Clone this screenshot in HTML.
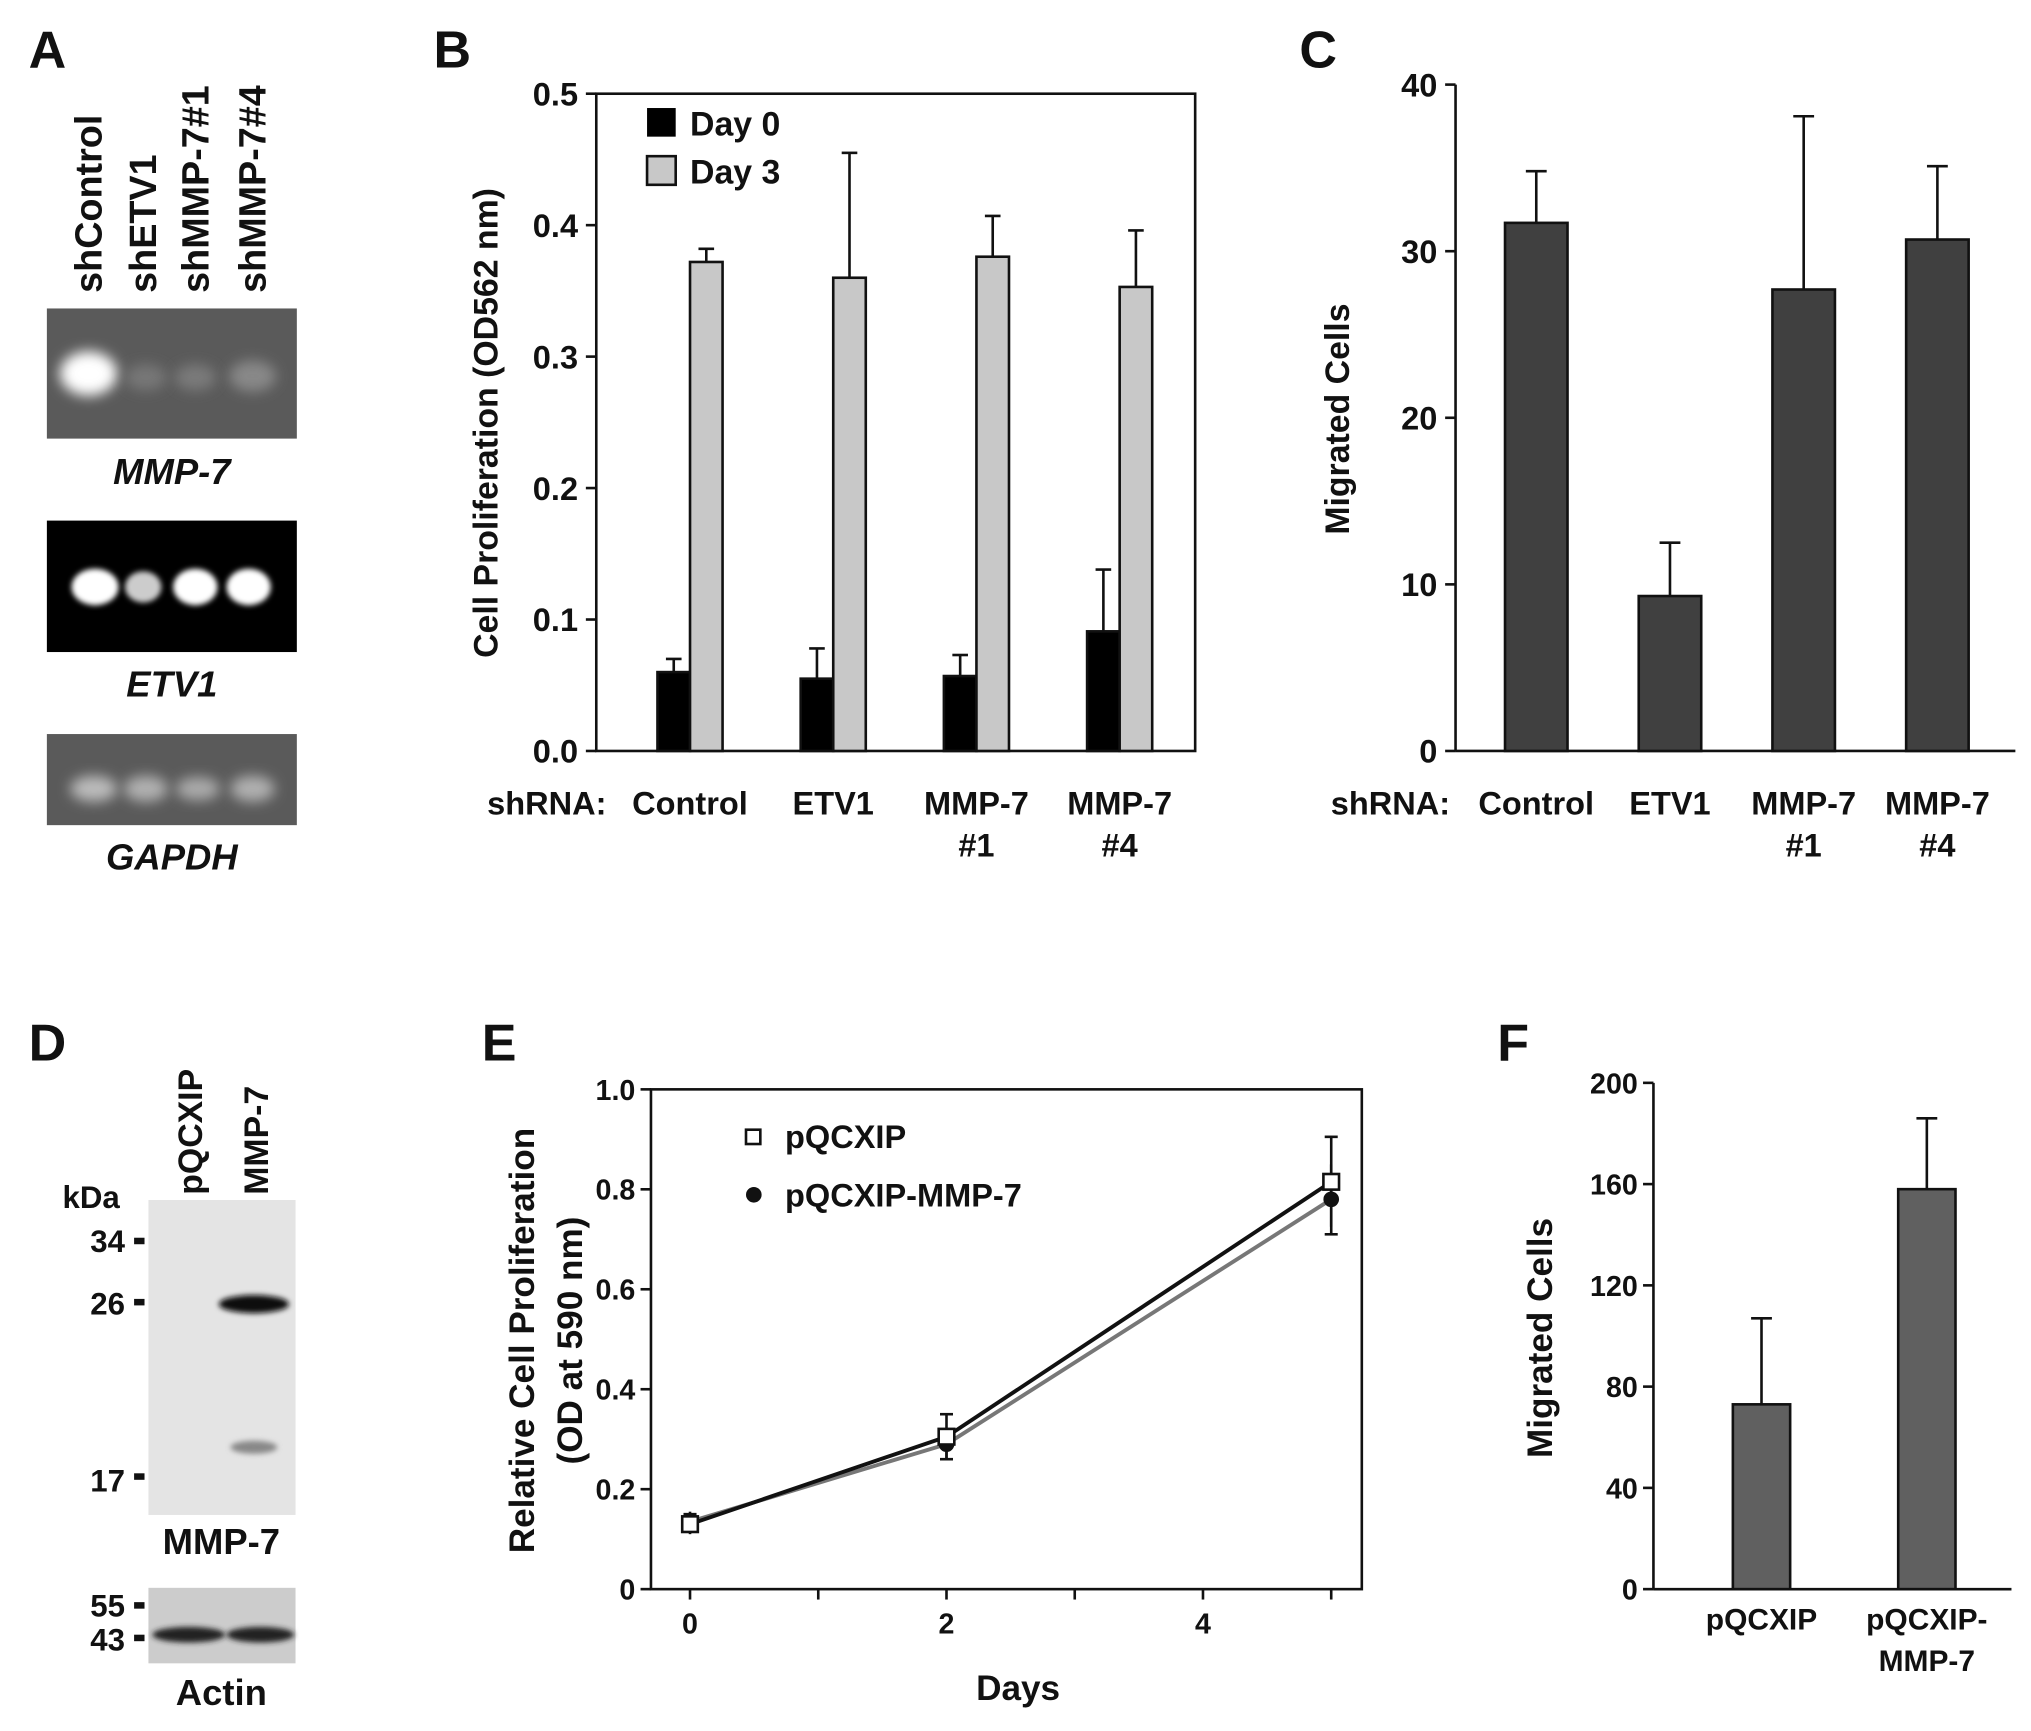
<!DOCTYPE html>
<html><head><meta charset="utf-8"><style>
html,body{margin:0;padding:0;background:#fff}
svg{display:block}
text{font-family:"Liberation Sans",Arial,sans-serif;font-weight:bold;fill:#111}
</style></head><body>
<svg id="fig" width="2031" height="1731" viewBox="0 0 1560 1330" preserveAspectRatio="none">
<defs>
<filter id="blur" x="-50%" y="-50%" width="200%" height="200%"><feGaussianBlur stdDeviation="5"/></filter>
<filter id="blur2" x="-50%" y="-50%" width="200%" height="200%"><feGaussianBlur stdDeviation="2"/></filter>
</defs>
<g>
<text x="22" y="52" font-size="40">A</text>
<text transform="translate(78,225) rotate(-90)" font-size="29">shControl</text>
<text transform="translate(120,225) rotate(-90)" font-size="29">shETV1</text>
<text transform="translate(160,225) rotate(-90)" font-size="29">shMMP-7#1</text>
<text transform="translate(204,225) rotate(-90)" font-size="29">shMMP-7#4</text>
<rect x="36" y="237" width="192" height="100" fill="#5a5a5a"/>
<ellipse cx="68" cy="287" rx="22" ry="17" fill="#fff" filter="url(#blur)"/>
<ellipse cx="112" cy="290" rx="16" ry="10" fill="#777" filter="url(#blur)"/>
<ellipse cx="150" cy="290" rx="16" ry="10" fill="#7a7a7a" filter="url(#blur)"/>
<ellipse cx="194" cy="289" rx="18" ry="12" fill="#888" filter="url(#blur)"/>
<text x="132" y="372" font-size="28" font-style="italic" text-anchor="middle">MMP-7</text>
<rect x="36" y="400" width="192" height="101" fill="#000"/>
<ellipse cx="73" cy="451" rx="18" ry="14" fill="#fff" filter="url(#blur2)"/>
<ellipse cx="110" cy="451" rx="14" ry="12" fill="#ccc" filter="url(#blur2)"/>
<ellipse cx="150" cy="451" rx="17" ry="14" fill="#fff" filter="url(#blur2)"/>
<ellipse cx="191" cy="451" rx="17" ry="14" fill="#fff" filter="url(#blur2)"/>
<text x="132" y="535" font-size="28" font-style="italic" text-anchor="middle">ETV1</text>
<rect x="36" y="564" width="192" height="70" fill="#5a5a5a"/>
<ellipse cx="72" cy="606" rx="18" ry="10" fill="#bbb" filter="url(#blur)"/>
<ellipse cx="112" cy="606" rx="17" ry="10" fill="#b0b0b0" filter="url(#blur)"/>
<ellipse cx="152" cy="606" rx="17" ry="9" fill="#aaa" filter="url(#blur)"/>
<ellipse cx="194" cy="606" rx="17" ry="10" fill="#b0b0b0" filter="url(#blur)"/>
<text x="132" y="668" font-size="28" font-style="italic" text-anchor="middle">GAPDH</text>
</g>
<g>
<text x="22" y="815" font-size="40">D</text>
<text transform="translate(155,918) rotate(-90)" font-size="26">pQCXIP</text>
<text transform="translate(206,918) rotate(-90)" font-size="26">MMP-7</text>
<text x="70" y="928" font-size="24" text-anchor="middle">kDa</text>
<rect x="114" y="922" width="113" height="242" fill="#e4e4e4"/>
<ellipse cx="195" cy="1002" rx="27" ry="7" fill="#111" filter="url(#blur2)"/>
<ellipse cx="195" cy="1112" rx="18" ry="5" fill="#888" filter="url(#blur2)"/>
<text x="96" y="962" font-size="24" text-anchor="end">34</text><rect x="103" y="951" width="8" height="5" fill="#111"/>
<text x="96" y="1010" font-size="24" text-anchor="end">26</text><rect x="103" y="998" width="8" height="5" fill="#111"/>
<text x="96" y="1146" font-size="24" text-anchor="end">17</text><rect x="103" y="1132" width="8" height="5" fill="#111"/>
<text x="170" y="1194" font-size="28" text-anchor="middle">MMP-7</text>
<rect x="114" y="1220" width="113" height="58" fill="#ccc"/>
<ellipse cx="145" cy="1256" rx="28" ry="6" fill="#222" filter="url(#blur2)"/>
<ellipse cx="200" cy="1256" rx="26" ry="6" fill="#222" filter="url(#blur2)"/>
<text x="96" y="1242" font-size="24" text-anchor="end">55</text><rect x="103" y="1231" width="8" height="5" fill="#111"/>
<text x="96" y="1268" font-size="24" text-anchor="end">43</text><rect x="103" y="1256" width="8" height="5" fill="#111"/>
<text x="170" y="1310" font-size="28" text-anchor="middle">Actin</text>
</g>
<g id="charts"></g>
</svg>
<script>
// Panel B data
const bCats = ["Control","ETV1","MMP-7|#1","MMP-7|#4"];
const bDay0 = [0.060,0.055,0.057,0.091];
const bDay0Err = [0.010,0.023,0.016,0.047];
const bDay3 = [0.372,0.360,0.376,0.353];
const bDay3Err = [0.010,0.095,0.031,0.043];
const bTicks = [0,0.1,0.2,0.3,0.4,0.5];
// Panel C data
const cCats = ["Control","ETV1","MMP-7|#1","MMP-7|#4"];
const cVals = [31.7,9.3,27.7,30.7];
const cErr = [3.1,3.2,10.4,4.4];
const cTicks = [0,10,20,30,40];
// Panel E data
const eDays = [0,2,5];
const ePq = [0.130,0.305,0.815];
const ePqErr = [0.020,0.045,0.090];
const eMmp = [0.135,0.290,0.780];
const eMmpErr = [0.020,0.030,0.070];
const eYTicks = [0,0.2,0.4,0.6,0.8,1.0];
const eYLabels = ["0","0.2","0.4","0.6","0.8","1.0"];
const eXTicks = [0,1,2,3,4,5];
const eXLabels = ["0","","2","","4",""];
// Panel F data
const fCats = ["pQCXIP","pQCXIP-|MMP-7"];
const fVals = [73,158];
const fErr = [34,28];
const fTicks = [0,40,80,120,160,200];

const NS="http://www.w3.org/2000/svg";
const root=document.getElementById('charts');
function mk(tag,attrs,parent,txt){const e=document.createElementNS(NS,tag);for(const k in attrs)e.setAttribute(k,attrs[k]);if(txt!==undefined)e.textContent=txt;(parent||root).appendChild(e);return e;}
function grp(name){const g=mk('g',{});return g;}
function errbar(g,x,y1,y2,cap){mk('line',{x1:x,y1:y1,x2:x,y2:y2,stroke:'#111','stroke-width':2},g);mk('line',{x1:x-cap,y1:y2,x2:x+cap,y2:y2,stroke:'#111','stroke-width':2},g);}
function multiLabel(g,x,y,str,fs,name){const parts=str.split('|');parts.forEach((p,i)=>{const t=mk('text',{x:x,y:y+i*32,'font-size':fs,'text-anchor':'middle'},g,p);});}

(function(){
const g=grp('panel-b');
const x0=458,x1=918,yb=577,yt=72,max=0.5;
const y=v=>yb-(v/max)*(yb-yt);
const t=mk('text',{x:333,y:52,'font-size':40},g,'B');
const plot=mk('rect',{x:x0,y:yt,width:x1-x0,height:yb-yt,fill:'none',stroke:'#111','stroke-width':2},g);

bTicks.forEach(v=>{mk('line',{x1:x0-8,y1:y(v),x2:x0,y2:y(v),stroke:'#111','stroke-width':2},g);
const tl=mk('text',{x:x0-14,y:y(v)+9,'font-size':25,'text-anchor':'end'},g,v.toFixed(1));});
const yt2=mk('text',{transform:'translate(382,325) rotate(-90)','font-size':26,'text-anchor':'middle'},g,'Cell  Proliferation  (OD562 nm)');

const bw=25;const centers=bCats.map((c,i)=>530+i*110);
bCats.forEach((c,i)=>{const cx=centers[i];
const r0=mk('rect',{x:cx-bw,y:y(bDay0[i]),width:bw,height:yb-y(bDay0[i]),fill:'#000',stroke:'#111','stroke-width':2},g);

errbar(g,cx-bw/2,y(bDay0[i]),y(bDay0[i]+bDay0Err[i]),6);
const r3=mk('rect',{x:cx,y:y(bDay3[i]),width:bw,height:yb-y(bDay3[i]),fill:'#c8c8c8',stroke:'#111','stroke-width':2},g);

errbar(g,cx+bw/2,y(bDay3[i]),y(bDay3[i]+bDay3Err[i]),6);
multiLabel(g,cx,626,c,25,'x-category-b');});
const sh=mk('text',{x:420,y:626,'font-size':25,'text-anchor':'middle'},g,'shRNA:');
const lg=grp('legend-b');g.appendChild(lg);
mk('rect',{x:497,y:83,width:22,height:22,fill:'#000'},lg);
const l1=mk('text',{x:530,y:104,'font-size':26},lg,'Day 0');
mk('rect',{x:497,y:120,width:22,height:22,fill:'#c8c8c8',stroke:'#111','stroke-width':2},lg);
const l2=mk('text',{x:530,y:141,'font-size':26},lg,'Day 3');
})();

(function(){
const g=grp('panel-c');
const x0=1118,x1=1548,yb=577,yt=65,max=40;
const y=v=>yb-(v/max)*(yb-yt);
const t=mk('text',{x:998,y:52,'font-size':40},g,'C');
mk('line',{x1:x0,y1:yt,x2:x0,y2:yb,stroke:'#111','stroke-width':2},g);
mk('line',{x1:x0,y1:yb,x2:x1,y2:yb,stroke:'#111','stroke-width':2},g);
cTicks.forEach(v=>{mk('line',{x1:x0-8,y1:y(v),x2:x0,y2:y(v),stroke:'#111','stroke-width':2},g);
const tl=mk('text',{x:x0-14,y:y(v)+9,'font-size':25,'text-anchor':'end'},g,String(v));});
const yt2=mk('text',{transform:'translate(1036,322) rotate(-90)','font-size':26,'text-anchor':'middle'},g,'Migrated  Cells');

const bw=48;
cCats.forEach((c,i)=>{const cx=1180+i*102.7;
const r=mk('rect',{x:cx-bw/2,y:y(cVals[i]),width:bw,height:yb-y(cVals[i]),fill:'#404040',stroke:'#111','stroke-width':2},g);

errbar(g,cx,y(cVals[i]),y(cVals[i]+cErr[i]),8);
multiLabel(g,cx,626,c,25,'x-category-c');});
const sh=mk('text',{x:1068,y:626,'font-size':25,'text-anchor':'middle'},g,'shRNA:');
})();

(function(){
const g=grp('panel-e');
const x0=500,x1=1046,yb=1221,yt=837;
const X=d=>530+d*98.5;const Y=v=>yb-v*(yb-yt);
const t=mk('text',{x:370,y:815,'font-size':40},g,'E');
const p=mk('rect',{x:x0,y:yt,width:x1-x0,height:yb-yt,fill:'none',stroke:'#111','stroke-width':2},g);
eYTicks.forEach((v,i)=>{mk('line',{x1:x0-8,y1:Y(v),x2:x0,y2:Y(v),stroke:'#111','stroke-width':2},g);
const tl=mk('text',{x:x0-12,y:Y(v)+8,'font-size':22,'text-anchor':'end'},g,eYLabels[i]);});
eXTicks.forEach((d,i)=>{mk('line',{x1:X(d),y1:yb,x2:X(d),y2:yb+8,stroke:'#111','stroke-width':2},g);
if(eXLabels[i]){const tl=mk('text',{x:X(d),y:yb+34,'font-size':22,'text-anchor':'middle'},g,eXLabels[i]);}});
const xt=mk('text',{x:782,y:1306,'font-size':27,'text-anchor':'middle'},g,'Days');
const y1=mk('text',{transform:'translate(410,1030) rotate(-90)','font-size':27,'text-anchor':'middle'},g,'Relative Cell Proliferation');
const y2=mk('text',{transform:'translate(447,1030) rotate(-90)','font-size':27,'text-anchor':'middle'},g,'(OD at 590 nm)');
const l2=mk('polyline',{points:eDays.map((d,i)=>X(d)+','+Y(eMmp[i])).join(' '),fill:'none',stroke:'#777','stroke-width':3},g);

const l1=mk('polyline',{points:eDays.map((d,i)=>X(d)+','+Y(ePq[i])).join(' '),fill:'none',stroke:'#111','stroke-width':3},g);

eDays.forEach((d,i)=>{
mk('line',{x1:X(d),y1:Y(eMmp[i]-eMmpErr[i]),x2:X(d),y2:Y(eMmp[i]+eMmpErr[i]),stroke:'#111','stroke-width':2},g);
mk('line',{x1:X(d)-5,y1:Y(eMmp[i]-eMmpErr[i]),x2:X(d)+5,y2:Y(eMmp[i]-eMmpErr[i]),stroke:'#111','stroke-width':2},g);
mk('line',{x1:X(d),y1:Y(ePq[i]-ePqErr[i]),x2:X(d),y2:Y(ePq[i]+ePqErr[i]),stroke:'#111','stroke-width':2},g);
mk('line',{x1:X(d)-5,y1:Y(ePq[i]+ePqErr[i]),x2:X(d)+5,y2:Y(ePq[i]+ePqErr[i]),stroke:'#111','stroke-width':2},g);
const c=mk('circle',{cx:X(d),cy:Y(eMmp[i]),r:6,fill:'#111'},g);
const s=mk('rect',{x:X(d)-6,y:Y(ePq[i])-6,width:12,height:12,fill:'#fff',stroke:'#111','stroke-width':2},g);});
const lg=grp('legend-e');g.appendChild(lg);
mk('rect',{x:573,y:868,width:11,height:11,fill:'#fff',stroke:'#111','stroke-width':2},lg);
const a=mk('text',{x:603,y:882,'font-size':25},lg,'pQCXIP');
mk('circle',{cx:579,cy:918,r:6,fill:'#111'},lg);
const b=mk('text',{x:603,y:927,'font-size':25},lg,'pQCXIP-MMP-7');
})();

(function(){
const g=grp('panel-f');
const x0=1270,x1=1545,yb=1221,yt=832,max=200;
const y=v=>yb-(v/max)*(yb-yt);
const t=mk('text',{x:1150,y:815,'font-size':40},g,'F');
mk('line',{x1:x0,y1:yt,x2:x0,y2:yb,stroke:'#111','stroke-width':2},g);
mk('line',{x1:x0,y1:yb,x2:x1,y2:yb,stroke:'#111','stroke-width':2},g);
fTicks.forEach(v=>{mk('line',{x1:x0-8,y1:y(v),x2:x0,y2:y(v),stroke:'#111','stroke-width':2},g);
const tl=mk('text',{x:x0-12,y:y(v)+8,'font-size':22,'text-anchor':'end'},g,String(v));});
const yt2=mk('text',{transform:'translate(1192,1028) rotate(-90)','font-size':27,'text-anchor':'middle'},g,'Migrated  Cells');

const bw=44;
fCats.forEach((c,i)=>{const cx=1353+i*127;
const r=mk('rect',{x:cx-bw/2,y:y(fVals[i]),width:bw,height:yb-y(fVals[i]),fill:'#606060',stroke:'#111','stroke-width':2},g);

errbar(g,cx,y(fVals[i]),y(fVals[i]+fErr[i]),8);
multiLabel(g,cx,1252,c,23,'x-category-f');});
})();
</script>
</body></html>
